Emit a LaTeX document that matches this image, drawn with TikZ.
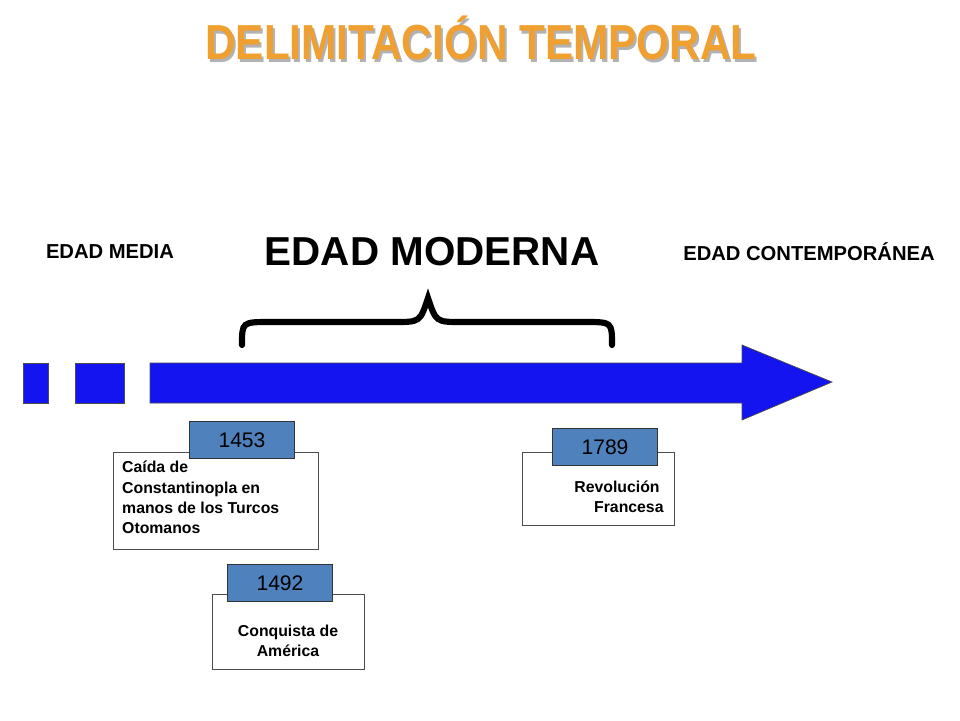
\documentclass[tikz,border=0pt]{standalone}
\usepackage{fontspec}
\setmainfont{Liberation Sans}
\usetikzlibrary{positioning}
\definecolor{timeblue}{RGB}{20,20,240}
\definecolor{tagblue}{RGB}{79,129,189}
\definecolor{titleorange}{RGB}{240,160,48}
\tikzset{
  bar/.style={fill=timeblue, draw=black!70, thin},
  eventbox/.style={draw=black!70, fill=white},
  yeartag/.style={draw=black!80, fill=tagblue, minimum width=2.1cm, minimum height=0.74cm, font=\fontsize{12}{12}\selectfont},
  eralabel/.style={font=\bfseries\fontsize{11.5}{11.5}\selectfont},
  eventtext/.style={font=\bfseries\fontsize{9}{11.5}\selectfont}
}
\begin{document}
\begin{tikzpicture}[x=0.02cm, y=-0.02cm]
    \useasboundingbox (0,0) rectangle (960,720);
    % Title
    \node[text=black!30, font=\bfseries\fontsize{28}{28}\selectfont, xscale=0.86] at (483,41) {DELIMITACIÓN TEMPORAL};
    \node (title) [text=titleorange, font=\bfseries\fontsize{28}{28}\selectfont, xscale=0.86] at (481,38) {DELIMITACIÓN TEMPORAL};

    % Eras
    \node (media) [eralabel] at (110,252) {EDAD MEDIA};
    \node (moderna) [font=\bfseries\fontsize{23}{23}\selectfont] at (432,252) {EDAD MODERNA};
    \node (contemp) [eralabel] at (809,252) {EDAD CONTEMPORÁNEA};

    % Brace
    \draw[line width=3.5pt, line cap=round] (242,345) .. controls (242,322) .. (270,322) -- (395,322)
        .. controls (420,322) .. (428,298) .. controls (436,322) .. (461,322) -- (585,322)
        .. controls (612,322) .. (612,345);

    % Timeline
    \draw[bar] (23,363) rectangle (48,403);
    \draw[bar] (75,363) rectangle (124,403);
    \draw[bar] (150,363) -- (742,363) -- (742,345) -- (832,382) -- (742,420) -- (742,403) -- (150,403) -- cycle;

    % Events
    \draw[eventbox] (113,452) rectangle (318,549);
    \node (y1453) [yeartag] at (242,440) {1453};
    \node (e1453) [eventtext, align=left, anchor=north west] at (116,455) {Caída de\\Constantinopla en\\manos de los Turcos\\Otomanos};

    \draw[eventbox] (522,452) rectangle (674,525);
    \node (y1789) [yeartag] at (605,447) {1789};
    \node (e1789) [eventtext, align=center] at (617,497) {Revolución\\\hspace*{1.5em}Francesa};

    \draw[eventbox] (212,594) rectangle (364,669);
    \node (y1492) [yeartag] at (280,583) {1492};
    \node (e1492) [eventtext, align=center] at (288,641) {Conquista de\\América};
\end{tikzpicture}
\end{document}
